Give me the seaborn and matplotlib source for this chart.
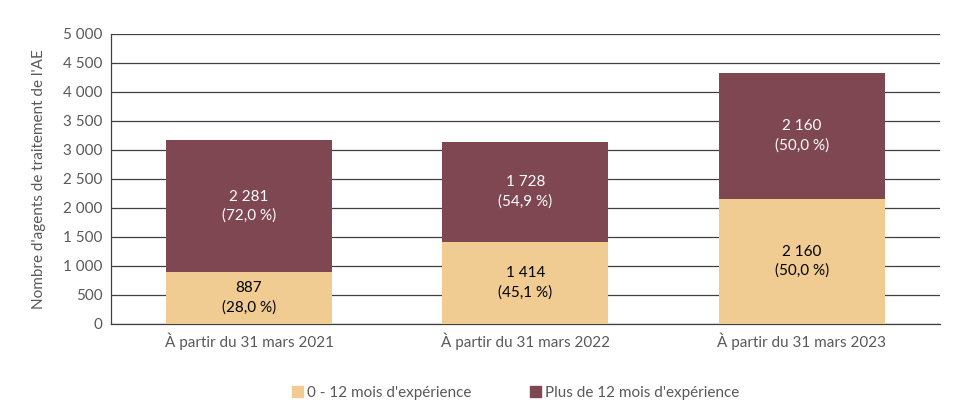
import matplotlib.pyplot as plt
import seaborn as sns
import pandas as pd
from matplotlib.patches import Patch
from matplotlib.ticker import FuncFormatter

periods = ["À partir du 31 mars 2021", "À partir du 31 mars 2022", "À partir du 31 mars 2023"]
junior = [887, 1414, 2160]
senior = [2281, 1728, 2160]
junior_pct = ["28,0", "45,1", "50,0"]
senior_pct = ["72,0", "54,9", "50,0"]
series_names = ["0 - 12 mois d'expérience", "Plus de 12 mois d'expérience"]
yticks = [0, 500, 1000, 1500, 2000, 2500, 3000, 3500, 4000, 4500, 5000]

c_junior = "#F0CC93"
c_senior = "#7F4751"
text_grey = "#595959"

sns.set_style("white")
plt.rcParams["font.family"] = ["Lato", "DejaVu Sans"]

df = pd.DataFrame({"period": periods, "junior": junior, "senior": senior})
df["total"] = df["junior"] + df["senior"]

fig = plt.figure(figsize=(9.64, 4.18), dpi=100)
ax = fig.add_axes([0.115, 0.225, 0.86, 0.694])

sns.barplot(data=df, x="period", y="total", color=c_senior, width=0.6,
            saturation=1, linewidth=0, ax=ax, zorder=3)
sns.barplot(data=df, x="period", y="junior", color=c_junior, width=0.6,
            saturation=1, linewidth=0, ax=ax, zorder=3)

fmt = lambda v: f"{int(v):,}".replace(",", " ")
fs = 11
for i, row in df.iterrows():
    ax.text(i, row["junior"] / 2, f"{fmt(row['junior'])}\n({junior_pct[i]} %)",
            ha="center", va="center", fontsize=fs, color="black",
            linespacing=1.45, zorder=4)
    ax.text(i, row["junior"] + row["senior"] / 2,
            f"{fmt(row['senior'])}\n({senior_pct[i]} %)",
            ha="center", va="center", fontsize=fs, color="white",
            linespacing=1.45, zorder=4)

ax.set_ylim(0, 5000)
ax.set_xlim(-0.5, 2.5)
ax.set_yticks(yticks)
ax.yaxis.set_major_formatter(FuncFormatter(lambda v, p: fmt(v)))
ax.yaxis.grid(True, color="#404040", linewidth=0.9, zorder=0)
ax.set_axisbelow(True)
ax.tick_params(axis="both", length=0, labelsize=fs, colors=text_grey, pad=6)
ax.set_xlabel("")
ax.set_ylabel("Nombre d'agents de traitement de l'AE", fontsize=fs,
              color=text_grey, labelpad=12)
for side in ["top", "right"]:
    ax.spines[side].set_visible(False)
for side in ["left", "bottom"]:
    ax.spines[side].set_color("#404040")
    ax.spines[side].set_linewidth(0.9)

handles = [Patch(color=c_junior), Patch(color=c_senior)]
fig.legend(handles, series_names, loc="center", bbox_to_anchor=(0.535, 0.06),
           ncol=2, frameon=False, fontsize=fs, handlelength=0.7,
           handleheight=0.7, handletextpad=0.3, columnspacing=3.8,
           labelcolor=text_grey)

fig.savefig("out.png", dpi=100)
